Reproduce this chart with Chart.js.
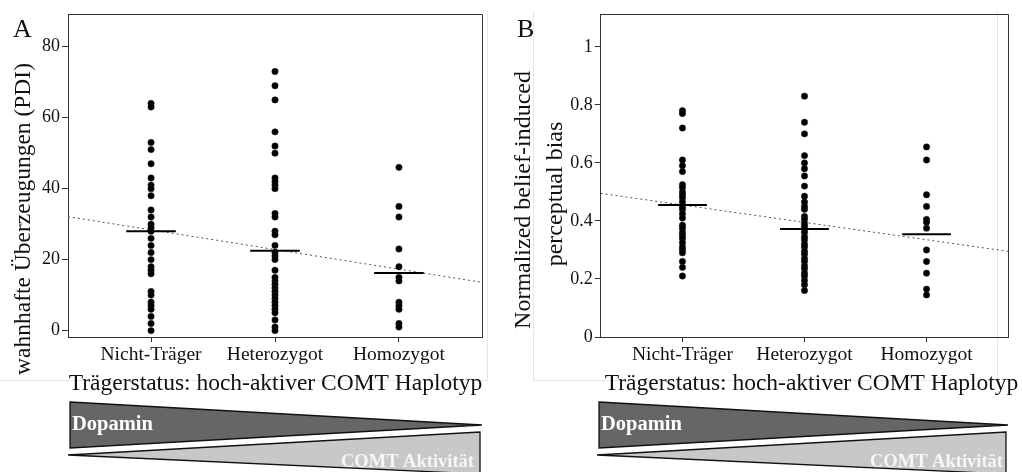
<!DOCTYPE html>
<html>
<head>
<meta charset="utf-8">
<script src="https://cdn.jsdelivr.net/npm/chart.js@4.4.0/dist/chart.umd.min.js"></script>
<style>
  body { margin: 0; background: #fff; }
  #wrap { position: relative; width: 1022px; height: 472px; overflow: hidden; }
  canvas { position: absolute; top: 0; }
</style>
</head>
<body>
<div id="wrap">
  <canvas id="chartA" width="511" height="472" style="left:0"></canvas>
  <canvas id="chartB" width="511" height="472" style="left:511px"></canvas>
</div>
<script>
// categories on the x axis
var categories = ["Nicht-Träger", "Heterozygot", "Homozygot"];

// panel A: PDI scores per group
var nichtA  = [64, 63, 53, 51, 47, 43, 41, 40, 38, 34, 32, 30, 29, 28, 26, 24, 22, 20, 18, 17, 16, 11, 10, 8, 7, 6, 4, 2, 0];
var heteroA = [73, 69, 65, 56, 52, 50, 43, 42, 41, 40, 33, 32, 28, 27, 24, 22, 21, 20, 17, 15, 14, 13, 12, 11, 10, 9, 8, 7, 6, 5, 3, 1, 0];
var homoA   = [46, 35, 32, 23, 18, 15, 14, 8, 7, 6, 2, 1];
var medianA = [28, 22.5, 16.2];
var trendA  = [32.1, 13.6];          // dotted fit line at left / right edge
var yTicksA = [0, 20, 40, 60, 80];

// panel B: normalized belief-induced bias per group
var nichtB  = [0.78, 0.77, 0.72, 0.61, 0.59, 0.57, 0.525, 0.515, 0.50, 0.49, 0.48, 0.465, 0.45, 0.44, 0.425, 0.41, 0.385, 0.375, 0.36, 0.35, 0.34, 0.325, 0.31, 0.30, 0.29, 0.26, 0.24, 0.21];
var heteroB = [0.83, 0.74, 0.70, 0.625, 0.60, 0.58, 0.555, 0.52, 0.485, 0.465, 0.45, 0.44, 0.415, 0.405, 0.39, 0.38, 0.37, 0.36, 0.345, 0.335, 0.32, 0.31, 0.295, 0.285, 0.27, 0.26, 0.245, 0.235, 0.22, 0.21, 0.195, 0.18, 0.16];
var homoB   = [0.655, 0.61, 0.49, 0.45, 0.405, 0.395, 0.375, 0.30, 0.26, 0.22, 0.165, 0.145];
var medianB = [0.455, 0.372, 0.354];
var trendB  = [0.495, 0.295];
var yTicksB = [0, 0.2, 0.4, 0.6, 0.8, 1];

var X_MIN = -0.67, X_MAX = 2.67, HALF = 0.2;
var SERIF = "'Liberation Serif', 'Times New Roman', serif";
Chart.defaults.font.family = SERIF;
Chart.defaults.color = '#111';

function pointsOf(groups) {
  var pts = [];
  groups.forEach(function(g, i) {
    g.forEach(function(v) { pts.push({ x: i, y: v }); });
  });
  return pts;
}

function buildDatasets(groups, medians, trend) {
  var ds = [];
  ds.push({
    type: 'line', data: [{ x: X_MIN, y: trend[0] }, { x: X_MAX, y: trend[1] }],
    borderColor: '#555', borderWidth: 1, borderDash: [2, 3], pointRadius: 0, order: 3
  });
  ds.push({
    type: 'scatter', data: pointsOf(groups),
    backgroundColor: '#000', borderColor: '#222', borderWidth: 0.5, pointRadius: 3.2, order: 2
  });
  medians.forEach(function(m, i) {
    ds.push({
      type: 'line', data: [{ x: i - HALF, y: m }, { x: i + HALF, y: m }],
      borderColor: '#000', borderWidth: 2, pointRadius: 0, order: 1
    });
  });
  return ds;
}

// frame, panel letter, axis titles and the two wedges under each plot
var decorPlugin = {
  id: 'decor',
  beforeDraw: function(chart, args, o) {
    var ctx = chart.ctx;
    ctx.save();
    ctx.strokeStyle = '#e6e6e6';
    ctx.lineWidth = 1;
    ctx.beginPath();
    o.frame.forEach(function(s) {
      ctx.moveTo(s[0] + 0.5, s[1] + 0.5);
      ctx.lineTo(s[2] + 0.5, s[3] + 0.5);
    });
    ctx.stroke();
    ctx.restore();
  },
  afterDraw: function(chart, args, o) {
    var ctx = chart.ctx, a = chart.chartArea;
    ctx.save();
    // top and right side of the box
    ctx.strokeStyle = '#333';
    ctx.lineWidth = 1;
    ctx.beginPath();
    ctx.moveTo(a.left, Math.round(a.top) + 0.5);
    ctx.lineTo(Math.round(a.right) + 0.5, Math.round(a.top) + 0.5);
    ctx.lineTo(Math.round(a.right) + 0.5, a.bottom);
    ctx.stroke();

    ctx.fillStyle = '#111';
    ctx.font = '26px ' + SERIF;
    ctx.textAlign = 'left';
    ctx.textBaseline = 'alphabetic';
    ctx.fillText(o.letter, o.letterX, 37);

    // y title
    o.yTitle.forEach(function(t) {
      ctx.save();
      ctx.translate(t.x, t.y);
      ctx.rotate(-Math.PI / 2);
      ctx.font = t.size + 'px ' + SERIF;
      ctx.textAlign = 'center';
      ctx.fillText(t.text, 0, 0);
      ctx.restore();
    });

    // x title
    ctx.font = '23.5px ' + SERIF;
    ctx.textAlign = 'center';
    ctx.fillText(o.xTitle, o.xTitleX, 390);

    // wedges
    var w = o.wedge;
    ctx.lineWidth = 1.3;
    ctx.strokeStyle = '#111';
    ctx.fillStyle = '#666';
    ctx.beginPath();
    ctx.moveTo(w.dl, 402); ctx.lineTo(w.tip, 425); ctx.lineTo(w.dl, 448); ctx.closePath();
    ctx.fill(); ctx.stroke();
    ctx.fillStyle = '#c8c8c8';
    ctx.beginPath();
    ctx.moveTo(w.ll, 455); ctx.lineTo(w.lr, 432); ctx.lineTo(w.lr, 474); ctx.closePath();
    ctx.fill(); ctx.stroke();

    ctx.fillStyle = '#fff';
    ctx.font = 'bold 20.5px ' + SERIF;
    ctx.textAlign = 'left';
    ctx.fillText('Dopamin', w.dl + 2, 430);
    ctx.fillStyle = '#f6f6f6';
    ctx.font = 'bold 18.5px ' + SERIF;
    ctx.textAlign = 'right';
    ctx.fillText('COMT Aktivität', w.textR, 467);
    ctx.restore();
  }
};

function makeChart(id, groups, medians, trend, yMin, yMax, yTicks, yWidth, padRight, fmt, decor) {
  return new Chart(document.getElementById(id), {
    type: 'scatter',
    data: { datasets: buildDatasets(groups, medians, trend) },
    options: {
      responsive: false,
      animation: false,
      devicePixelRatio: 1,
      layout: { padding: { top: 14, right: padRight, left: 0, bottom: 0 } },
      plugins: { legend: { display: false }, tooltip: { enabled: false }, decor: decor },
      scales: {
        x: {
          type: 'linear', min: X_MIN, max: X_MAX,
          afterBuildTicks: function(s) { s.ticks = categories.map(function(c, i) { return { value: i }; }); },
          afterFit: function(s) { s.height = 135; },
          grid: { display: true, drawOnChartArea: false, drawTicks: true, tickLength: 5, color: '#333' },
          border: { display: true, color: '#333', width: 1 },
          ticks: {
            font: { size: 19.5 }, padding: 1, maxRotation: 0, autoSkip: false,
            callback: function(v) { return categories[Math.round(v)]; }
          }
        },
        y: {
          type: 'linear', min: yMin, max: yMax,
          afterBuildTicks: function(s) { s.ticks = yTicks.map(function(v) { return { value: v }; }); },
          afterFit: function(s) { s.width = yWidth; },
          grid: { display: true, drawOnChartArea: false, drawTicks: true, tickLength: 6, color: '#333' },
          border: { display: true, color: '#333', width: 1 },
          ticks: { font: { size: 18 }, padding: 2, callback: fmt }
        }
      }
    },
    plugins: [decorPlugin]
  });
}

var xTitle = 'Trägerstatus: hoch-aktiver COMT Haplotyp';

makeChart('chartA', [nichtA, heteroA, homoA], medianA, trendA, -1.8, 89.2, yTicksA, 68, 29,
  function(v) { return String(v); },
  {
    letter: 'A', letterX: 13,
    yTitle: [{ text: 'wahnhafte Überzeugungen (PDI)', x: 30, y: 219, size: 23.5 }],
    xTitle: xTitle, xTitleX: 275.5,
    frame: [[487, 10, 487, 380], [0, 380, 487, 380]],
    wedge: { dl: 70, tip: 482, ll: 68, lr: 480, textR: 474 }
  });

makeChart('chartB', [nichtB, heteroB, homoB], medianB, trendB, 0, 1.113, yTicksB, 89.7, 13.7,
  function(v) { return (v === 0 || v === 1) ? String(v) : v.toFixed(1); },
  {
    letter: 'B', letterX: 6,
    yTitle: [
      { text: 'Normalized belief-induced', x: 19, y: 200, size: 24 },
      { text: 'perceptual bias', x: 51, y: 194, size: 24 }
    ],
    xTitle: xTitle, xTitleX: 300.5,
    frame: [[22, 10, 22, 380], [22, 380, 486, 380], [486, 10, 486, 380]],
    wedge: { dl: 88, tip: 497, ll: 86, lr: 495, textR: 492 }
  });
</script>
</body>
</html>
